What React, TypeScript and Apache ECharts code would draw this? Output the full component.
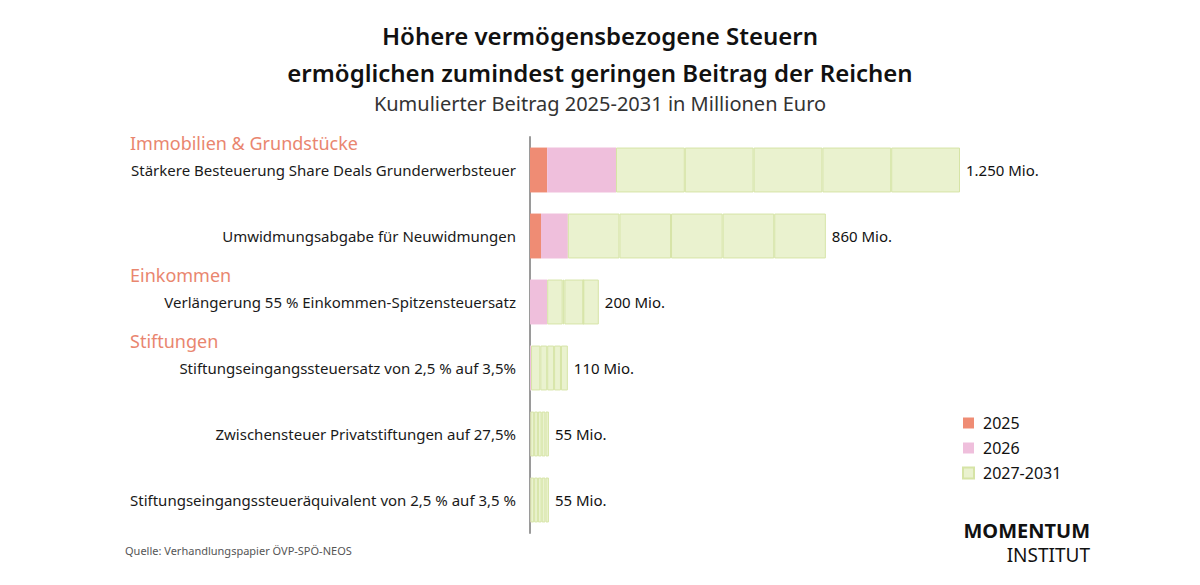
import React, { useEffect, useRef } from "react";
import * as echarts from "echarts";

const categories = [
  "Stärkere Besteuerung Share Deals Grunderwerbsteuer",
  "Umwidmungsabgabe für Neuwidmungen",
  "Verlängerung 55 % Einkommen-Spitzensteuersatz",
  "Stiftungseingangssteuersatz von 2,5 % auf 3,5%",
  "Zwischensteuer Privatstiftungen auf 27,5%",
  "Stiftungseingangssteueräquivalent von 2,5 % auf 3,5 %",
];
const v2025 = [50, 32, 0, 0, 0, 0];
const v2026 = [200, 78, 50, 3, 1, 1];
const v2027 = [200, 150, 45, 27, 11, 11];
const v2028 = [200, 150, 5, 20, 11, 11];
const v2029 = [200, 150, 55, 20, 11, 11];
const v2030 = [200, 150, 0, 20, 11, 11];
const v2031 = [200, 150, 45, 20, 10, 10];
const groupHeadings = [
  { text: "Immobilien & Grundstücke", row: 0 },
  { text: "Einkommen", row: 2 },
  { text: "Stiftungen", row: 3 },
];
const titleLines = [
  "Höhere vermögensbezogene Steuern",
  "ermöglichen zumindest geringen Beitrag der Reichen",
];
const subtitle = "Kumulierter Beitrag 2025-2031 in Millionen Euro";
const source = "Quelle: Verhandlungspapier ÖVP-SPÖ-NEOS";
const logoLines = ["MOMENTUM", "INSTITUT"];

const FONT = "'Noto Sans', sans-serif";

function fmt(n: number) {
  const s = String(Math.round(n));
  return s.replace(/\B(?=(\d{3})+(?!\d))/g, ".");
}

export default function App() {
  const ref = useRef<HTMLDivElement>(null);
  useEffect(() => {
    if (!ref.current) return;
    const chart = echarts.init(ref.current, undefined, { renderer: "svg" });
    const totals = categories.map(
      (_, i) => v2025[i] + v2026[i] + v2027[i] + v2028[i] + v2029[i] + v2030[i] + v2031[i]
    );
    const gridTop = 137;
    const band = 66;
    const green = "#eaf2cf";
    const greenBorder = "#d6e4a6";
    const later = [v2027, v2028, v2029, v2030, v2031];
    const series: any[] = [
      {
        name: "2025",
        type: "bar",
        stack: "t",
        data: v2025,
        barCategoryGap: "32%",
        itemStyle: { color: "#ef8c74" },
      },
      {
        name: "2026",
        type: "bar",
        stack: "t",
        data: v2026,
        itemStyle: { color: "#efbfdc" },
      },
      ...later.map((d, k) => ({
        name: "2027-2031",
        type: "bar",
        stack: "t",
        data: d,
        itemStyle: { color: green, borderColor: greenBorder, borderWidth: 1 },
        label:
          k === later.length - 1
            ? {
                show: true,
                position: "right",
                distance: 6,
                fontFamily: FONT,
                fontSize: 15,
                color: "#111",
                formatter: (p: any) => fmt(totals[p.dataIndex]) + " Mio.",
              }
            : { show: false },
      })),
    ];
    chart.setOption({
      animation: false,
      textStyle: { fontFamily: FONT },
      legend: {
        data: ["2025", "2026", "2027-2031"],
        orient: "vertical",
        left: 957,
        top: 410,
        icon: "rect",
        itemWidth: 11,
        itemHeight: 11,
        itemGap: 9,
        textStyle: { fontFamily: FONT, fontSize: 16, color: "#111", padding: [0, 0, 0, 4] },
      },
      grid: { left: 530, top: gridTop, width: 516, height: band * categories.length },
      xAxis: {
        type: "value",
        min: 0,
        max: 1500,
        show: false,
      },
      yAxis: {
        type: "category",
        data: categories,
        inverse: true,
        axisLine: { show: true, lineStyle: { color: "#9a9a9a", width: 2 } },
        axisTick: { show: false },
        axisLabel: { fontFamily: FONT, fontSize: 15, color: "#1a1a1a", margin: 14 },
      },
      series,
      graphic: [
        {
          type: "text",
          x: 600,
          y: 35,
          style: {
            text: titleLines[0],
            fontFamily: FONT,
            fontSize: 24,
            fontWeight: 600,
            fill: "#111",
            align: "center",
            verticalAlign: "middle",
          },
        },
        {
          type: "text",
          x: 600,
          y: 72,
          style: {
            text: titleLines[1],
            fontFamily: FONT,
            fontSize: 24,
            fontWeight: 600,
            fill: "#111",
            align: "center",
            verticalAlign: "middle",
          },
        },
        {
          type: "text",
          x: 600,
          y: 103,
          style: {
            text: subtitle,
            fontFamily: FONT,
            fontSize: 20,
            fill: "#333",
            align: "center",
            verticalAlign: "middle",
          },
        },
        ...groupHeadings.map((g) => ({
          type: "text",
          x: 130,
          y: gridTop + band * g.row + 6,
          style: {
            text: g.text,
            fontFamily: FONT,
            fontSize: 18,
            fill: "#e9866f",
            verticalAlign: "middle",
          },
        })),
        {
          type: "text",
          x: 125,
          y: 550,
          style: {
            text: source,
            fontFamily: FONT,
            fontSize: 11,
            fill: "#555",
            verticalAlign: "middle",
          },
        },
        {
          type: "text",
          x: 1090,
          y: 530,
          style: {
            text: logoLines[0],
            fontFamily: FONT,
            fontSize: 20,
            fontWeight: 700,
            fill: "#111",
            align: "right",
            verticalAlign: "middle",
          },
        },
        {
          type: "text",
          x: 1090,
          y: 555,
          style: {
            text: logoLines[1],
            fontFamily: FONT,
            fontSize: 19,
            fill: "#111",
            align: "right",
            verticalAlign: "middle",
          },
        },
      ],
    });
    return () => chart.dispose();
  }, []);
  return (
    <div
      ref={ref}
      style={{ position: "fixed", left: 0, top: 0, width: 1200, height: 585, background: "#fff" }}
    />
  );
}
